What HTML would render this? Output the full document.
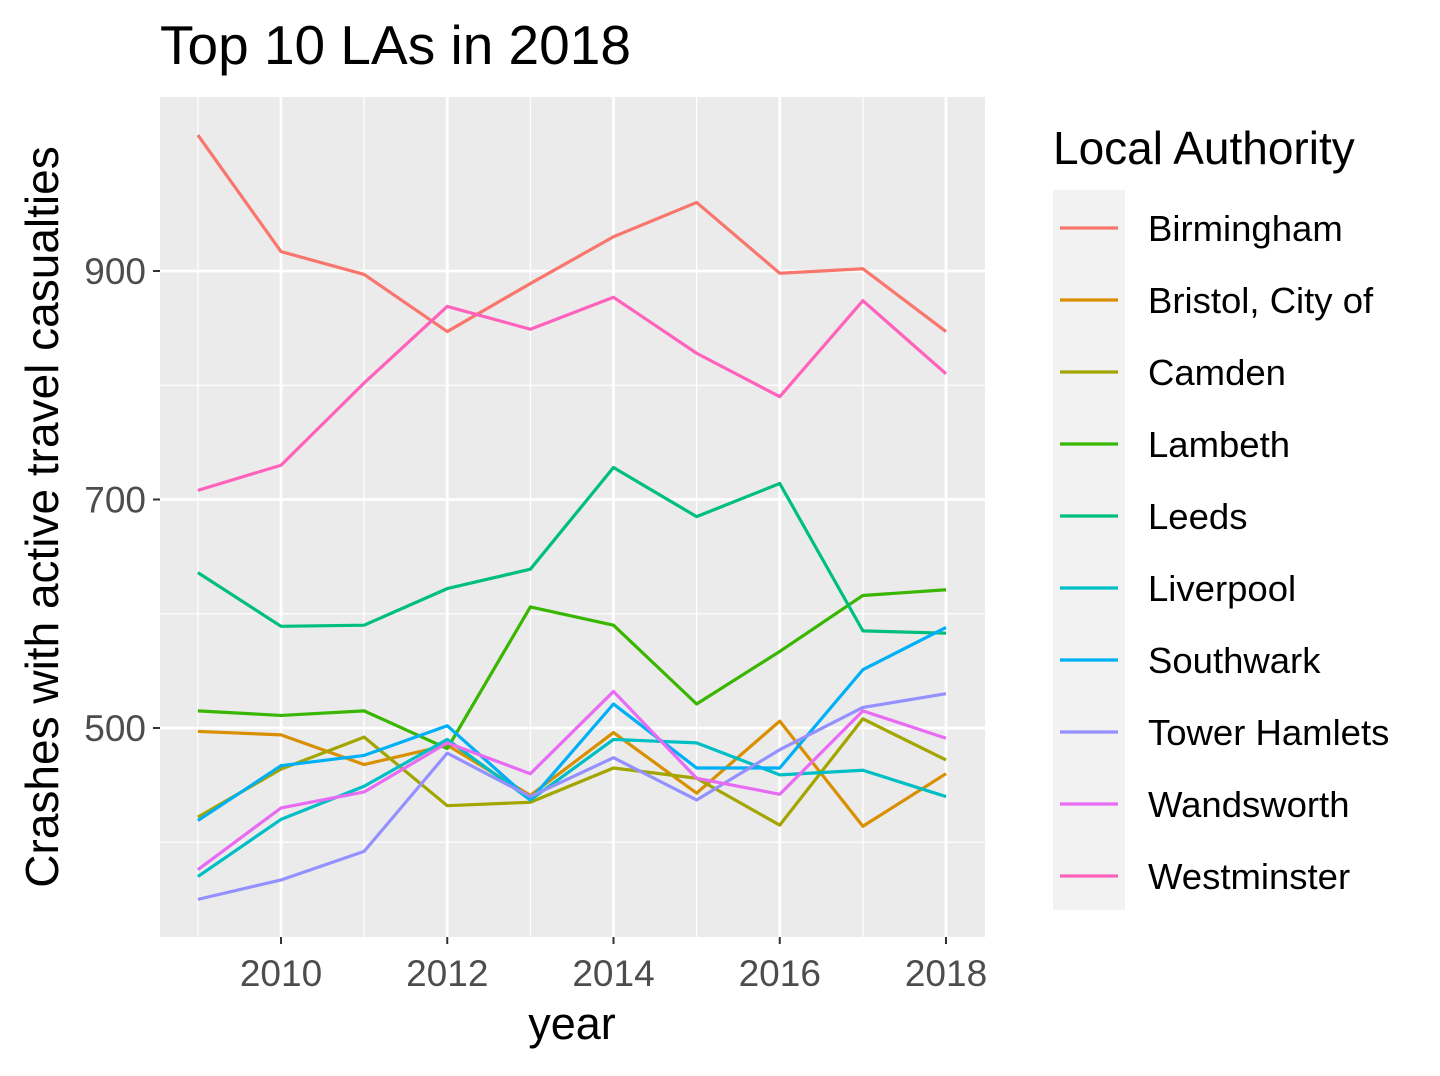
<!DOCTYPE html>
<html><head><meta charset="utf-8"><style>
body{margin:0;background:#fff;}
svg text{font-family:"Liberation Sans",Arial,sans-serif;}
</style></head><body>
<svg id="chart" width="1440" height="1071" xmlns="http://www.w3.org/2000/svg">
<text x="160" y="64" font-size="55" fill="#000">Top 10 LAs in 2018</text>
<rect x="160" y="97" width="825" height="840" fill="#ebebeb"/>
<g id="grid"></g>
<g id="lines"></g>
<g id="axes"></g>
<text x="572" y="1039" font-size="45" text-anchor="middle" fill="#000">year</text>
<text transform="translate(58,517) rotate(-90)" font-size="46" text-anchor="middle" fill="#000">Crashes with active travel casualties</text>
<text x="1053" y="164" font-size="46" fill="#000">Local Authority</text>
<rect x="1053" y="190" width="72" height="720" fill="#f2f2f2"/>
<g id="legend"></g>
</svg>
<script>
const years=[2009,2010,2011,2012,2013,2014,2015,2016,2017,2018];
const seriesNames=["Birmingham","Bristol, City of","Camden","Lambeth","Leeds","Liverpool","Southwark","Tower Hamlets","Wandsworth","Westminster"];
const birmingham=[1019,917,897,847,889,930,960,898,902,847];
const bristol=[497,494,468,485,441,496,443,506,414,460];
const camden=[422,464,492,432,435,465,456,415,508,472];
const lambeth=[515,511,515,482,606,590,521,567,616,621];
const leeds=[636,589,590,622,639,728,685,714,585,583];
const liverpool=[370,420,449,490,437,490,487,459,463,440];
const southwark=[419,467,476,502,437,521,465,465,551,588];
const towerHamlets=[350,367,392,478,440,474,437,481,518,530];
const wandsworth=[376,430,444,487,460,532,456,442,515,491];
const westminster=[708,730,802,869,849,877,828,790,874,810];
const colors=["#F8766D","#D89000","#A3A500","#39B600","#00BF7D","#00BFC4","#00B0F6","#9590FF","#E76BF3","#FF62BC"];
const xTicks=[2010,2012,2014,2016,2018];
const xMinor=[2009,2011,2013,2015,2017];
const yTicks=[500,700,900];
const yMinor=[400,600,800];
const allSeries=[birmingham,bristol,camden,lambeth,leeds,liverpool,southwark,towerHamlets,wandsworth,westminster];
const NS="http://www.w3.org/2000/svg";
const xS=y=>281+(y-2010)*83.125;
const yS=v=>728-(v-500)*1.1425;
function mk(tag,attrs,parent){const e=document.createElementNS(NS,tag);for(const k in attrs)e.setAttribute(k,attrs[k]);parent.appendChild(e);return e;}
const grid=document.getElementById('grid'),axes=document.getElementById('axes'),lines=document.getElementById('lines'),legend=document.getElementById('legend');
yMinor.forEach(v=>{const l=mk('line',{x1:160,x2:985,y1:yS(v),y2:yS(v),stroke:'#fff','stroke-width':1.3},grid);

});
xMinor.forEach(v=>{const l=mk('line',{x1:xS(v),x2:xS(v),y1:97,y2:937,stroke:'#fff','stroke-width':1.3},grid);

});
yTicks.forEach(v=>{const l=mk('line',{x1:160,x2:985,y1:yS(v),y2:yS(v),stroke:'#fff','stroke-width':2.8},grid);


const t=mk('line',{x1:153,x2:160,y1:yS(v),y2:yS(v),stroke:'#333','stroke-width':2},axes);


const tx=mk('text',{x:146,y:yS(v)+13,'font-size':37,'text-anchor':'end',fill:'#4d4d4d'},axes);tx.textContent=v;

});
xTicks.forEach(v=>{const l=mk('line',{x1:xS(v),x2:xS(v),y1:97,y2:937,stroke:'#fff','stroke-width':2.8},grid);


const t=mk('line',{x1:xS(v),x2:xS(v),y1:937,y2:944,stroke:'#333','stroke-width':2},axes);


const tx=mk('text',{x:xS(v),y:986,'font-size':37,'text-anchor':'middle',fill:'#4d4d4d'},axes);tx.textContent=v;

});
allSeries.forEach((s,i)=>{const p=mk('polyline',{points:s.map((v,j)=>xS(years[j])+','+yS(v)).join(' '),fill:'none',stroke:colors[i],'stroke-width':3.2,'stroke-linejoin':'round'},lines);


const y=228+i*72;
const g=mk('g',{},legend);


mk('line',{x1:1060,x2:1118,y1:y,y2:y,stroke:colors[i],'stroke-width':3.2},g);
const tx=mk('text',{x:1148,y:y+13,'font-size':36.5,fill:'#000'},g);tx.textContent=seriesNames[i];});
</script>
</body></html>
